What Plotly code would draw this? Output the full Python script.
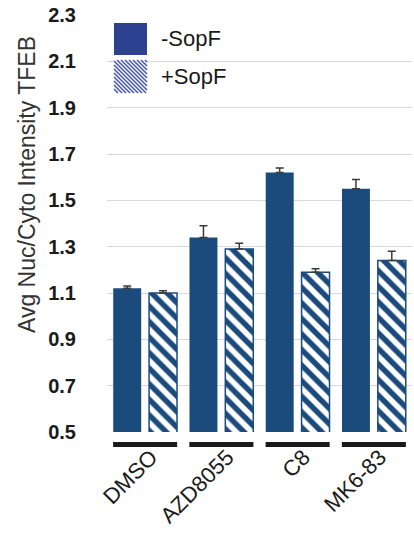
import plotly.graph_objects as go

# Data
categories = ["DMSO", "AZD8055", "C8", "MK6-83"]
series_names = ["-SopF", "+SopF"]
minus_sopf = [1.12, 1.34, 1.62, 1.55]
minus_sopf_err = [0.01, 0.05, 0.02, 0.04]
plus_sopf = [1.10, 1.29, 1.19, 1.24]
plus_sopf_err = [0.01, 0.025, 0.015, 0.04]
y_ticks = [0.5, 0.7, 0.9, 1.1, 1.3, 1.5, 1.7, 1.9, 2.1, 2.3]
y_title = "Avg Nuc/Cyto Intensity TFEB"

NAVY = "#1b4b7c"
FONT = "Liberation Sans, Arial, sans-serif"

W, H = 414, 540
L, R, T, B = 107, 2, 15, 108
PW, PH = W - L - R, H - T - B


def px_to_paper(px, py):
    return (px - L) / PW, (H - B - py) / PH


def upper_only(err):
    # whiskers drawn upward only
    return dict(type="data", symmetric=False, array=err,
                arrayminus=[0 for _ in err], color="#3a3a3a",
                thickness=1.5, width=4)


fig = go.Figure()

fig.add_trace(go.Bar(
    x=categories, y=minus_sopf, name=series_names[0],
    marker=dict(color=NAVY, line=dict(width=0)),
    error_y=upper_only(minus_sopf_err),
    showlegend=False,
))
fig.add_trace(go.Bar(
    x=categories, y=plus_sopf, name=series_names[1],
    marker=dict(color="white", line=dict(color=NAVY, width=1.5),
                pattern=dict(shape="\\", fgcolor=NAVY, bgcolor="white",
                             fgopacity=1, size=11, solidity=0.5)),
    error_y=upper_only(plus_sopf_err),
    showlegend=False,
))

shapes = []
# thick black bars beneath each treatment group
for i in range(len(categories)):
    shapes.append(dict(type="rect", xref="x", yref="paper",
                       x0=i - 0.42, x1=i + 0.42, y0=-0.036, y1=-0.024,
                       fillcolor="#1a1a1a", line=dict(width=0), layer="above"))

# legend swatches: solid and hatched squares
sx0, sx1 = 114, 147
sy0, sy1 = 23, 55
a = px_to_paper(sx0, sy0)
b = px_to_paper(sx1, sy1)
shapes.append(dict(type="rect", xref="paper", yref="paper",
                   x0=a[0], y0=b[1], x1=b[0], y1=a[1],
                   fillcolor="#2c4290", line=dict(width=0), layer="above"))

hy0, hy1 = 60, 93
a = px_to_paper(sx0, hy0)
b = px_to_paper(sx1, hy1)
shapes.append(dict(type="rect", xref="paper", yref="paper",
                   x0=a[0], y0=b[1], x1=b[0], y1=a[1],
                   fillcolor="white", line=dict(width=0), layer="above"))
# diagonal hatch lines (top-left to bottom-right), clipped to the square
size = sx1 - sx0
segs = []
step = 4
c = -size
while c <= size:
    x_start = max(0, c)
    x_end = min(size, size + c)
    if x_end > x_start:
        p0 = px_to_paper(sx0 + x_start, hy0 + x_start - c)
        p1 = px_to_paper(sx0 + x_end, hy0 + x_end - c)
        segs.append(f"M{p0[0]:.5f},{p0[1]:.5f}L{p1[0]:.5f},{p1[1]:.5f}")
    c += step
shapes.append(dict(type="path", xref="paper", yref="paper", path="".join(segs),
                   line=dict(color="#4a5cad", width=1.6), layer="above"))

annotations = []
for name, py in zip(series_names, [39, 77]):
    xp, yp = px_to_paper(159, py)
    annotations.append(dict(x=xp, y=yp, xref="paper", yref="paper",
                            text=name, showarrow=False, xanchor="left",
                            yanchor="middle",
                            font=dict(family=FONT, size=22, color="#1a1a1a")))

# y-axis title
tx, ty = px_to_paper(27, 185)
annotations.append(dict(x=tx, y=ty, xref="paper", yref="paper",
                        text=y_title, textangle=-90, showarrow=False,
                        xanchor="center", yanchor="middle",
                        font=dict(family=FONT, size=23, color="#333333")))

fig.update_layout(
    width=W, height=H, autosize=False,
    margin=dict(l=L, r=R, t=T, b=B),
    paper_bgcolor="white", plot_bgcolor="white",
    barmode="group", bargap=0.06, bargroupgap=0.22,
    shapes=shapes, annotations=annotations,
    font=dict(family=FONT, color="#1a1a1a"),
    xaxis=dict(
        tickangle=-45, tickfont=dict(family=FONT, size=22, color="#1a1a1a"),
        ticks="", ticklabelshift=6, ticklabelstandoff=7,
        showgrid=False, showline=False, zeroline=False,
    ),
    yaxis=dict(
        range=[0.5, 2.3], tickvals=y_ticks,
        ticktext=[f"{v:.1f}" for v in y_ticks],
        tickfont=dict(family=FONT, size=20, color="#1a1a1a", weight="bold"),
        ticklabelstandoff=30,
        showgrid=True, gridcolor="#d9d9d9", gridwidth=1,
        showline=False, zeroline=False,
    ),
)

fig.write_html("out.html")
